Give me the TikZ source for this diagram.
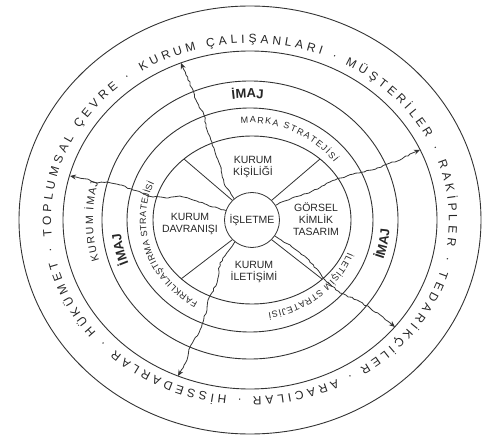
\documentclass[tikz,border=0pt]{standalone}
\usepackage{fontspec}
\setmainfont{Liberation Sans}
\usetikzlibrary{decorations.text, decorations.pathmorphing, arrows.meta}

\newcommand{\ringfont}{\fontsize{12}{14}\selectfont\color{black!85}}
\newcommand{\imajfont}{\fontsize{13}{15}\selectfont\bfseries\color{black!85}}
\newcommand{\kimajfont}{\fontsize{10.5}{12}\selectfont\color{black!85}}
\newcommand{\stratfont}{\fontsize{9}{11}\selectfont\color{black!85}}

\begin{document}
\begin{tikzpicture}[
    x=1pt, y=1pt,
    ring/.style={draw=black!80, line width=0.9pt},
    sector/.style={draw=black!80, line width=0.8pt},
    crack/.style={draw=black!80, line width=0.8pt, line join=round,
        decorate, decoration={random steps, segment length=3pt, amplitude=0.7pt, pre length=2pt, post length=7pt},
        -{Stealth[length=6pt, width=5pt]}},
    partlabel/.style={align=center, font=\fontsize{10.5}{12}\selectfont, text=black!85, inner sep=0pt},
    ringtext/.style={decorate, decoration={text along path, text align={fit to path}, text={#1}}},
    centertext/.style={decorate, decoration={text along path, text align=center, text={#1}}},
]
\pgfmathsetseed{7}
\useasboundingbox (-250,-224) rectangle (234,220);

% Rings
\draw[ring] (0,0) ellipse[x radius=231, y radius=214];
\draw[ring] (0,0) ellipse[x radius=187, y radius=169];
\draw[ring] (0,0) ellipse[x radius=148, y radius=139];
\draw[ring] (0,0) ellipse[x radius=123, y radius=112];
\draw[ring] (2,0) ellipse[x radius=99, y radius=84];

% Centre
\node[circle, draw=black!80, line width=0.8pt, minimum size=55pt, partlabel] (isletme) at (2,0) {İŞLETME};

% Sectors
\coordinate (secNW) at (-66,61);
\coordinate (secNE) at (70,61);
\coordinate (secSW) at (-69,-59);
\coordinate (secSE) at (72,-59);
\draw[sector] (isletme.135) -- (secNW);
\draw[sector] (isletme.45) -- (secNE);
\draw[sector] (isletme.225) -- (secSW);
\draw[sector] (isletme.315) -- (secSE);

\node[partlabel] (kisilik) at (3,53) {KURUM\\KİŞİLİĞİ};
\node[partlabel] (davranis) at (-60,-4) {KURUM\\DAVRANIŞI};
\node[partlabel] (gorsel) at (66,1) {GÖRSEL\\KİMLİK\\TASARIM};
\node[partlabel] (iletisim) at (4,-52) {KURUM\\İLETİŞİMİ};

% Stakeholders
\path[ringtext={|\ringfont|KURUM ÇALIŞANLARI · MÜŞTERİLER · RAKİPLER · TEDARİKÇİLER · ARACILAR · HİSSEDARLAR · HÜKÜMET · TOPLUMSAL ÇEVRE ·}]
    (123:199 and 177) arc[start angle=123, end angle=-233, x radius=199, y radius=177];

% Image ring
\path[ringtext={|\kimajfont|KURUM İMAJ}]
    (196:157 and 146) arc[start angle=196, end angle=165, x radius=157, y radius=146];
\path[centertext={|\imajfont|İMAJ}]
    (113:133 and 122) arc[start angle=113, end angle=69, x radius=133, y radius=122];
\path[centertext={|\imajfont|İMAJ}]
    (212:130 and 121) arc[start angle=212, end angle=175, x radius=130, y radius=121];
\path[centertext={|\imajfont|İMAJ}]
    (-24:140 and 130) arc[start angle=-24, end angle=2, x radius=140, y radius=130];

% Strategies
\path[ringtext={|\stratfont|MARKA STRATEJİSİ}]
    (95:104 and 97) arc[start angle=95, end angle=36, x radius=104, y radius=97];
\path[ringtext={|\stratfont|FARKLILAŞTIRMA STRATEJİSİ}]
    (240:104 and 95) arc[start angle=240, end angle=157, x radius=104, y radius=95];
\path[ringtext={|\stratfont|İLETİŞİM STRATEJİSİ}]
    (-20:104 and 94) arc[start angle=-20, end angle=-80, x radius=104, y radius=94];

% Cracks out to the stakeholders
\coordinate (tipA) at (-69,157);
\coordinate (tipB) at (-180,44);
\coordinate (tipC) at (170,70);
\coordinate (tipD) at (145,-107);
\coordinate (tipE) at (-72,-156);
\draw[crack] (isletme.130) -- (-26,37) -- (-30,55) -- (-36,72) -- (-42,87) -- (-46,105) -- (-54,120) -- (-58,132) -- (-64,145) -- (tipA);
\draw[crack] (isletme.160) -- (-45,16) -- (-57,20) -- (-70,24) -- (-82,22) -- (-97,23) -- (-108,27) -- (-117,30) -- (-130,35) -- (-143,38) -- (-153,37) -- (-163,41) -- (tipB);
\draw[crack] (isletme.32) -- (42,22) -- (59,27) -- (72,34) -- (85,40) -- (97,44) -- (109,47) -- (122,50) -- (140,57) -- (150,60) -- (160,66) -- (tipC);
\draw[crack] (isletme.-35) -- (42,-27) -- (59,-40) -- (75,-60) -- (90,-73) -- (107,-80) -- (120,-88) -- (133,-97) -- (tipD);
\draw[crack] (isletme.232) -- (-30,-43) -- (-33,-63) -- (-42,-80) -- (-43,-90) -- (-50,-110) -- (-60,-127) -- (-63,-140) -- (tipE);

\end{tikzpicture}
\end{document}
